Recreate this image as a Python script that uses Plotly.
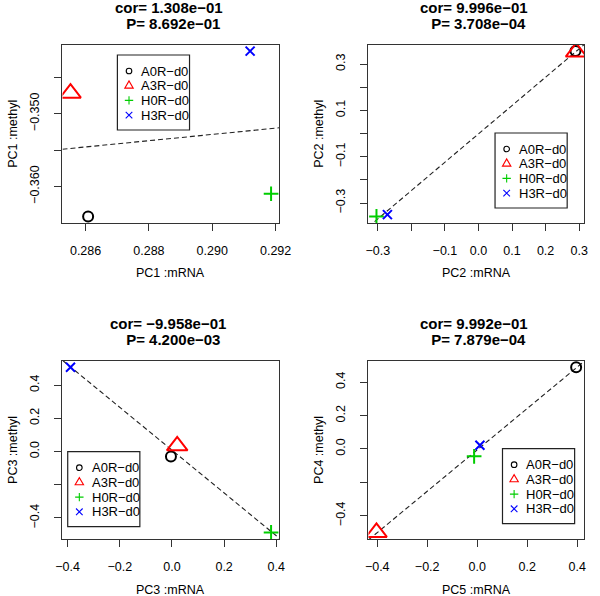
import numpy as np
import plotly.graph_objects as go

W, H = 600, 596

# ---------------- data ----------------
samples = ["A0R-d0", "A3R-d0", "H0R-d0", "H3R-d0"]
legend_labels = [s.replace("-", "\u2212") for s in samples]
colors = ["#000000", "#FF0000", "#00CD00", "#0000FF"]

pc1_mrna = [0.28608, 0.285524, 0.291857, 0.291195]
pc1_methyl = [-0.36411, -0.34718, -0.3610, -0.3414]

pc2_mrna = [0.289, 0.291, -0.304, -0.2714]
pc2_methyl = [0.356, 0.352, -0.3575, -0.350]

pc3_mrna = [-0.0039, 0.020, 0.380, -0.389]
pc3_methyl = [-0.0304, 0.034, -0.487, 0.507]

pc5_mrna = [0.396, -0.403, -0.0122, 0.011]
pc4_methyl = [0.489, -0.500, -0.044, 0.0218]

x_titles = ["PC1 :mRNA", "PC2 :mRNA", "PC3 :mRNA", "PC5 :mRNA"]
y_titles = ["PC1 :methyl", "PC2 :methyl", "PC3 :methyl", "PC4 :methyl"]
cor_values = [1.308e-01, 9.996e-01, -9.958e-01, 9.992e-01]
p_values = [8.692e-01, 3.708e-04, 4.200e-03, 7.879e-04]

x_tickvals_1 = [0.286, 0.288, 0.290, 0.292]
x_ticktext_1 = ["0.286", "0.288", "0.290", "0.292"]
y_tickvals_1 = [-0.345, -0.350, -0.355, -0.360]
y_ticktext_1 = ["", "\u22120.350", "", "\u22120.360"]

x_tickvals_2 = [-0.3, -0.2, -0.1, 0.0, 0.1, 0.2, 0.3]
x_ticktext_2 = ["\u22120.3", "", "\u22120.1", "0.0", "0.1", "0.2", "0.3"]
y_tickvals_2 = [-0.3, -0.2, -0.1, 0.0, 0.1, 0.2, 0.3]
y_ticktext_2 = ["\u22120.3", "", "\u22120.1", "", "0.1", "", "0.3"]

x_tickvals_3 = [-0.4, -0.2, 0.0, 0.2, 0.4]
x_ticktext_3 = ["\u22120.4", "\u22120.2", "0.0", "0.2", "0.4"]
y_tickvals_3 = [-0.4, -0.2, 0.0, 0.2, 0.4]
y_ticktext_3 = ["\u22120.4", "", "0.0", "0.2", "0.4"]

x_tickvals_4 = [-0.4, -0.2, 0.0, 0.2, 0.4]
x_ticktext_4 = ["\u22120.4", "\u22120.2", "0.0", "0.2", "0.4"]
y_tickvals_4 = [-0.4, -0.2, 0.0, 0.2, 0.4]
y_ticktext_4 = ["\u22120.4", "", "0.0", "0.2", "0.4"]

# ---------------- styling ----------------
FONT = "Liberation Sans, Arial, Helvetica, sans-serif"
symbols = ["circle-open", "triangle-up-open", "cross-thin-open", "x-thin-open"]
sizes = [10, 18, 10.5, 9]

panels = [
    dict(x=pc1_mrna, y=pc1_methyl, xt=(x_tickvals_1, x_ticktext_1), yt=(y_tickvals_1, y_ticktext_1),
         box=(57.3, 44.5, 281, 223), leg=(114, 55)),
    dict(x=pc2_mrna, y=pc2_methyl, xt=(x_tickvals_2, x_ticktext_2), yt=(y_tickvals_2, y_ticktext_2),
         box=(373.3, 44.5, 596, 223), leg=(504, 133)),
    dict(x=pc3_mrna, y=pc3_methyl, xt=(x_tickvals_3, x_ticktext_3), yt=(y_tickvals_3, y_ticktext_3),
         box=(57.3, 360.7, 281, 539), leg=(62.7, 451.7)),
    dict(x=pc5_mrna, y=pc4_methyl, xt=(x_tickvals_4, x_ticktext_4), yt=(y_tickvals_4, y_ticktext_4),
         box=(373.3, 360.7, 596, 539), leg=(511.7, 448.7)),
]


def fmt(v):
    return "{:.3e}".format(v).replace("-", "\u2212")


def padded(vals):
    lo, hi = min(vals), max(vals)
    d = (hi - lo) * 0.04
    return [lo - d, hi + d]


fig = go.Figure()
layout = dict(width=W, height=H, margin=dict(l=0, r=0, t=0, b=0), autosize=False,
              paper_bgcolor="white", plot_bgcolor="white", showlegend=False,
              font=dict(family=FONT, size=12.5, color="black"))
shapes, annotations = [], []

for i, p in enumerate(panels):
    n = i + 1
    xa = "x" if n == 1 else f"x{n}"
    ya = "y" if n == 1 else f"y{n}"
    x0p, y0p, x1p, y1p = p["box"]
    xr = padded(p["x"])
    yr = padded(p["y"])

    # regression line across the plotting region
    slope, icpt = np.polyfit(p["x"], p["y"], 1)
    lx = np.array(xr)
    fig.add_trace(go.Scatter(x=lx, y=slope * lx + icpt, mode="lines", xaxis=xa, yaxis=ya,
                             line=dict(color="#222222", width=1.1, dash="5px,3px"),
                             hoverinfo="skip"))
    for k in range(4):
        fig.add_trace(go.Scatter(x=[p["x"][k]], y=[p["y"][k]], mode="markers", xaxis=xa, yaxis=ya,
                                 name=samples[k],
                                 marker=dict(symbol=symbols[k], size=sizes[k], color=colors[k],
                                             line=dict(color=colors[k], width=2))))

    axcommon = dict(showgrid=False, zeroline=False, showline=True, mirror=True, linecolor="#333333",
                    linewidth=1.2, ticks="outside", ticklen=7, tickwidth=1, tickcolor="#333333",
                    tickfont=dict(family=FONT, size=12.5, color="black"))
    layout["xaxis" if n == 1 else f"xaxis{n}"] = dict(
        axcommon, domain=[x0p / W, x1p / W], range=xr, anchor=ya, ticklabelstandoff=9,
        tickmode="array", tickvals=p["xt"][0], ticktext=p["xt"][1])
    layout["yaxis" if n == 1 else f"yaxis{n}"] = dict(
        axcommon, domain=[1 - y1p / H, 1 - y0p / H], range=yr, anchor=xa, ticklabelstandoff=10,
        tickmode="array", tickvals=p["yt"][0], ticktext=p["yt"][1], tickangle=-90)

    cx = (x0p + x1p) / 2 / W
    # titles
    annotations.append(dict(xref="paper", yref="paper", x=cx, y=1 - (y0p - 37.3) / H,
                            text="cor= " + fmt(cor_values[i]) + "\u00a0", showarrow=False,
                            xanchor="center", yanchor="middle",
                            font=dict(family=FONT, size=15, color="black", weight="bold")))
    annotations.append(dict(xref="paper", yref="paper", x=cx, y=1 - (y0p - 20.8) / H,
                            text="\u00a0P= " + fmt(p_values[i]), showarrow=False,
                            xanchor="center", yanchor="middle",
                            font=dict(family=FONT, size=15, color="black", weight="bold")))
    # axis titles
    annotations.append(dict(xref="paper", yref="paper", x=cx, y=1 - (y1p + 50.5) / H,
                            text=x_titles[i], showarrow=False, xanchor="center", yanchor="middle",
                            font=dict(family=FONT, size=12.5, color="black")))
    annotations.append(dict(xref="paper", yref="paper", x=(x0p - 51) / W, y=1 - (y0p + y1p) / 2 / H,
                            text=y_titles[i], showarrow=False, xanchor="center", yanchor="middle",
                            textangle=-90, font=dict(family=FONT, size=12.5, color="black")))

    # legend box
    lx0, ly0 = p["leg"]
    shapes.append(dict(type="rect", xref="paper", yref="paper", x0=lx0 / W, x1=(lx0 + 74.5) / W,
                       y0=1 - ly0 / H, y1=1 - (ly0 + 75) / H,
                       line=dict(color="#222222", width=1.2), fillcolor="white", layer="above"))
    for k in range(4):
        sy = ly0 + 16 + k * 14.7
        sx = lx0 + 12
        ax, ay = sx / W, 1 - sy / H
        base = dict(xref="paper", yref="paper", xsizemode="pixel", ysizemode="pixel",
                    xanchor=ax, yanchor=ay, line=dict(color=colors[k], width=1.1), layer="above")
        if k == 0:
            shapes.append(dict(base, type="circle", x0=-2.8, x1=2.8, y0=-2.8, y1=2.8))
        elif k == 1:
            shapes.append(dict(base, type="path", path="M-4.2,-2.4 L4.2,-2.4 L0,4.8 Z"))
        elif k == 2:
            shapes.append(dict(base, type="path", path="M-4.2,0 L4.2,0 M0,-4.2 L0,4.2"))
        else:
            shapes.append(dict(base, type="path", path="M-3.3,-3.3 L3.3,3.3 M-3.3,3.3 L3.3,-3.3"))
        annotations.append(dict(xref="paper", yref="paper", x=(lx0 + 22.5) / W, y=ay,
                                text=legend_labels[k], showarrow=False, xanchor="left",
                                yanchor="middle", font=dict(family=FONT, size=13, color="black")))

layout["shapes"] = shapes
layout["annotations"] = annotations
fig.update_layout(**layout)
fig.write_html("out.html", config={"displayModeBar": False},
               post_script="document.body.style.margin='0';document.body.style.overflow='hidden';")
